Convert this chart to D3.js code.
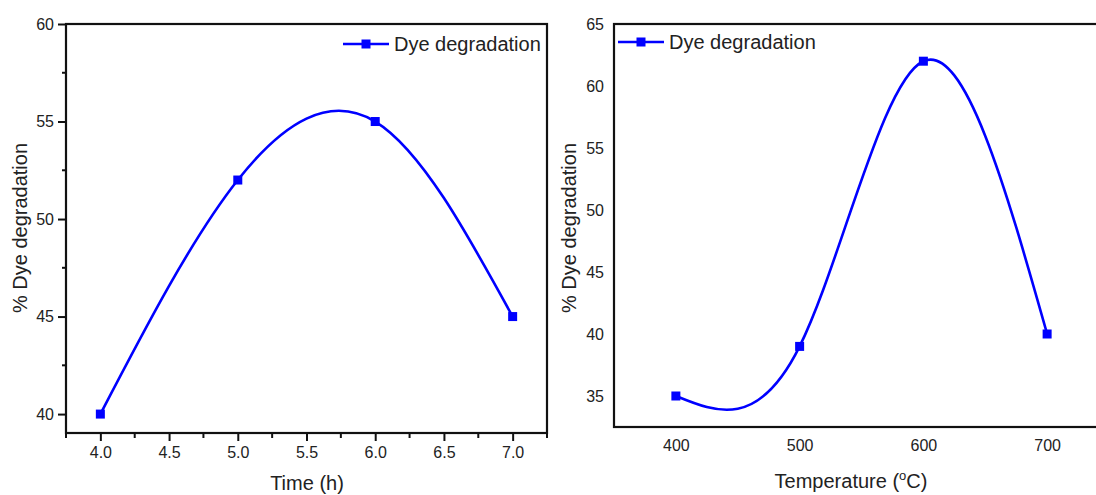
<!DOCTYPE html>
<html>
<head>
<meta charset="utf-8">
<script src="https://cdn.jsdelivr.net/npm/d3@7"></script>
<style>
  body { margin: 0; background: #fff; }
  svg { display: block; font-family: "Liberation Sans", Arial, sans-serif; }
  .tick text { fill: #222; }
</style>
</head>
<body>
<script>
// left panel: effect of time
const timeH = [4.0, 5.0, 6.0, 7.0];
const timeDeg = [40, 52, 55, 45];
const timeTicks = [4.0, 4.5, 5.0, 5.5, 6.0, 6.5, 7.0];
const timeMinor = [3.75, 4.25, 4.75, 5.25, 5.75, 6.25, 6.75, 7.25];
const degTicksL = [40, 45, 50, 55, 60];
const degMinorL = [42.5, 47.5, 52.5, 57.5];

// right panel: effect of temperature
const tempC = [400, 500, 600, 700];
const tempDeg = [35, 39, 62, 40];
const tempTicks = [400, 500, 600, 700];
const degTicksR = [35, 40, 45, 50, 55, 60, 65];

const W = 1096, H = 495;
const blue = '#0000ff';

const svg = d3.select('body').append('svg')
  .attr('width', W)
  .attr('height', H);

function panel(opt) {
  const x = d3.scaleLinear().domain(opt.xDomain).range(opt.xRange);
  const y = d3.scaleLinear().domain(opt.yDomain).range(opt.yRange);
  const g = svg.append('g');

  // axes
  const xAxis = d3.axisBottom(x).tickValues(opt.xTicks)
    .tickFormat(opt.xFormat).tickSize(opt.tickLen).tickSizeOuter(0).tickPadding(opt.tickLen ? 6 : 13);
  const yAxis = d3.axisLeft(y).tickValues(opt.yTicks)
    .tickFormat(d3.format('d')).tickSize(opt.tickLen).tickSizeOuter(0).tickPadding(opt.tickLen ? 4 : 10);

  const gx = g.append('g')
    .attr('transform', 'translate(0,' + opt.yRange[0] + ')')
    .call(xAxis);
  const gy = g.append('g')
    .attr('transform', 'translate(' + opt.xRange[0] + ',0)')
    .call(yAxis);
  [gx, gy].forEach(a => {
    a.select('.domain').remove();
    a.selectAll('.tick line').attr('stroke', '#111').attr('stroke-width', 2);
    a.selectAll('.tick text').style('font-size', '16px');
  });

  // minor ticks
  if (opt.xMinor) {
    g.selectAll('.xminor').data(opt.xMinor).enter().append('line')
      .attr('x1', d => x(d)).attr('x2', d => x(d))
      .attr('y1', opt.yRange[0]).attr('y2', opt.yRange[0] + 5)
      .attr('stroke', '#111').attr('stroke-width', 2);
  }
  if (opt.yMinor) {
    g.selectAll('.yminor').data(opt.yMinor).enter().append('line')
      .attr('x1', opt.xRange[0] - 4).attr('x2', opt.xRange[0])
      .attr('y1', d => y(d)).attr('y2', d => y(d))
      .attr('stroke', '#111').attr('stroke-width', 2);
  }

  // frame
  g.append('rect')
    .attr('x', opt.xRange[0]).attr('y', opt.yRange[1])
    .attr('width', opt.xRange[1] - opt.xRange[0])
    .attr('height', opt.yRange[0] - opt.yRange[1])
    .attr('fill', 'none').attr('stroke', '#111').attr('stroke-width', 2.2);

  // curve
  const pts = opt.xs.map((d, i) => [d, opt.ys[i]]);
  const line = d3.line()
    .x(d => x(d[0])).y(d => y(d[1]))
    .curve(d3.curveNatural);
  g.append('path')
    .datum(pts)
    .attr('d', line)
    .attr('fill', 'none')
    .attr('stroke', blue)
    .attr('stroke-width', 2.6);
  g.selectAll('.pt').data(pts).enter().append('rect')
    .attr('x', d => x(d[0]) - 4.5).attr('y', d => y(d[1]) - 4.5)
    .attr('width', 9).attr('height', 9)
    .attr('fill', blue);

  // axis titles
  const xt = g.append('text')
    .attr('x', opt.xTitlePos[0]).attr('y', opt.xTitlePos[1])
    .attr('text-anchor', 'middle')
    .style('font-size', '20px').attr('fill', '#222');
  xt.append('tspan').text(opt.xTitle[0]);
  if (opt.xTitle.length > 1) {
    xt.append('tspan').text(opt.xTitle[1]).attr('dy', -8).style('font-size', '13px');
    xt.append('tspan').text(opt.xTitle[2]).attr('dy', 8);
  }
  g.append('text')
    .attr('transform', 'translate(' + opt.yTitlePos[0] + ',' + opt.yTitlePos[1] + ') rotate(-90)')
    .attr('text-anchor', 'middle')
    .style('font-size', '20px').attr('fill', '#222')
    .text('% Dye degradation');

  // legend
  const lg = g.append('g').attr('transform', 'translate(' + opt.legend[0] + ',' + opt.legend[1] + ')');
  lg.append('line').attr('x1', 0).attr('x2', 46).attr('y1', 0).attr('y2', 0)
    .attr('stroke', blue).attr('stroke-width', 2.6);
  lg.append('rect').attr('x', 18.5).attr('y', -4.5).attr('width', 9).attr('height', 9).attr('fill', blue);
  lg.append('text').attr('x', 51).attr('y', 7)
    .style('font-size', '20px').attr('fill', '#222')
    .text('Dye degradation');
}

panel({
  xDomain: [3.75, 7.25], xRange: [66, 547],
  yDomain: [39.03, 60], yRange: [433, 24],
  xs: timeH, ys: timeDeg,
  xTicks: timeTicks, xMinor: timeMinor, xFormat: d3.format('.1f'),
  yTicks: degTicksL, yMinor: degMinorL, tickLen: 8,
  xTitle: ['Time (h)'], xTitlePos: [307, 490],
  yTitlePos: [27, 228],
  legend: [343, 44]
});

panel({
  xDomain: [350, 750], xRange: [614, 1109],
  yDomain: [32.5, 65], yRange: [427, 24],
  xs: tempC, ys: tempDeg,
  xTicks: tempTicks, xMinor: null, xFormat: d3.format('d'),
  yTicks: degTicksR, yMinor: null, tickLen: 0,
  xTitle: ['Temperature (', 'o', 'C)'], xTitlePos: [851, 488],
  yTitlePos: [576, 228],
  legend: [618, 42]
});
</script>
</body>
</html>
